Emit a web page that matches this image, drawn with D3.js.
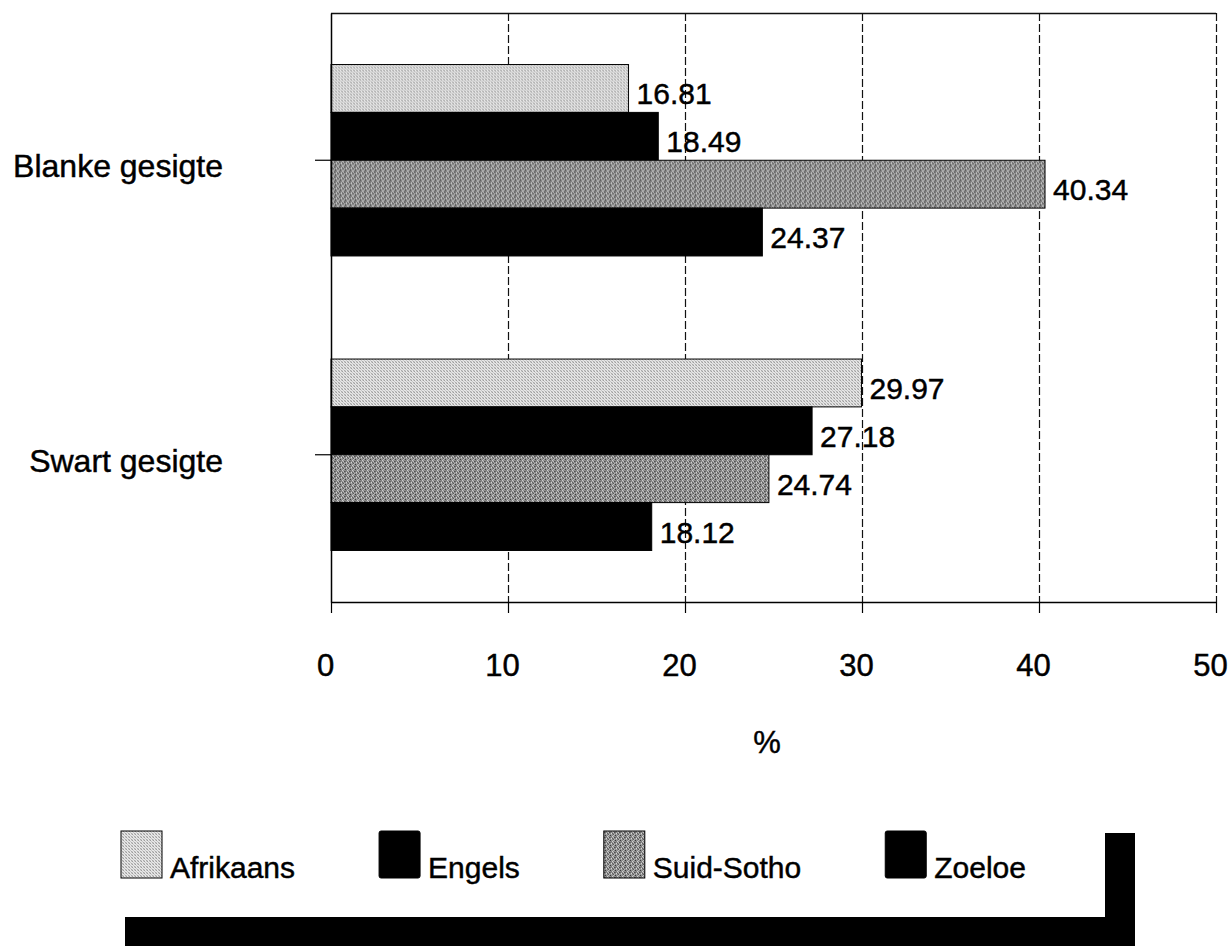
<!DOCTYPE html>
<html>
<head>
<meta charset="utf-8">
<script src="https://cdn.jsdelivr.net/npm/d3@7"></script>
<style>
  html, body { margin: 0; padding: 0; background: #fff; }
  svg { display: block; font-family: "Liberation Sans", Arial, Helvetica, sans-serif; }
  text { stroke: #000; stroke-width: 0.45px; }
</style>
</head>
<body>
<svg id="chart" width="1228" height="946"></svg>
<script>
// ---- data ----
const categories = ["Blanke gesigte", "Swart gesigte"];
const seriesNames = ["Afrikaans", "Engels", "Suid-Sotho", "Zoeloe"];
const afrikaans = [16.81, 29.97];
const engels    = [18.49, 27.18];
const suidSotho = [40.34, 24.74];
const zoeloe    = [24.37, 18.12];
const xTicks = [0, 10, 20, 30, 40, 50];
const xTitle = "%";

const seriesValues = [afrikaans, engels, suidSotho, zoeloe];
const seriesFill = ["url(#patA)", "#000", "url(#patS)", "#000"];

// ---- layout ----
const svg = d3.select("#chart");
const plot = { left: 331, right: 1216, top: 13, bottom: 602 };
const FONT = '"Liberation Sans", Arial, Helvetica, sans-serif';

// patterns
const defs = svg.append("defs");
const pA = defs.append("pattern").attr("id", "patA").attr("patternUnits", "userSpaceOnUse")
  .attr("width", 3).attr("height", 3);
pA.append("rect").attr("width", 3).attr("height", 3).attr("fill", "#e8e8e8");
[[0,0,"#9c9c9c"],[1,1,"#c4c4c4"],[2,2,"#a8a8a8"],[2,0,"#d2d2d2"],[0,2,"#cfcfcf"]].forEach(([x,y,c]) =>
  pA.append("rect").attr("x", x).attr("y", y).attr("width", 1).attr("height", 1).attr("fill", c));

const pS = defs.append("pattern").attr("id", "patS").attr("patternUnits", "userSpaceOnUse")
  .attr("width", 5).attr("height", 5);
pS.append("rect").attr("width", 5).attr("height", 5).attr("fill", "#8e8e8e");
[[0,0,"#3a3a3a"],[2,1,"#d0d0d0"],[4,2,"#4c4c4c"],[1,3,"#d8d8d8"],[3,4,"#5a5a5a"],
 [3,0,"#bdbdbd"],[0,2,"#6a6a6a"],[1,1,"#7a7a7a"],[4,4,"#b8b8b8"],[2,3,"#606060"],
 [1,4,"#a8a8a8"],[3,2,"#c4c4c4"]].forEach(([x,y,c]) =>
  pS.append("rect").attr("x", x).attr("y", y).attr("width", 1).attr("height", 1).attr("fill", c));

// scales
const x = d3.scaleLinear().domain([0, 50]).range([plot.left, plot.right]);
const y0 = d3.scaleBand().domain(categories).range([plot.top, plot.bottom])
  .paddingInner(0.35).paddingOuter(0.175);
const y1 = d3.scaleBand().domain(seriesNames).range([0, y0.bandwidth()]).padding(0);

// gridlines (dashed), including right border at 50
svg.append("g").selectAll("line").data(xTicks.filter(d => d > 0)).join("line")
  .attr("x1", d => Math.round(x(d)) + 0.5).attr("x2", d => Math.round(x(d)) + 0.5)
  .attr("y1", plot.top).attr("y2", plot.bottom)
  .attr("stroke", "#111").attr("stroke-width", 1.2).attr("stroke-dasharray", "8,3");

// top border
svg.append("line").attr("x1", plot.left).attr("x2", plot.right)
  .attr("y1", plot.top + 0.5).attr("y2", plot.top + 0.5)
  .attr("stroke", "#111").attr("stroke-width", 1.3);

// bars
const groups = svg.append("g").selectAll("g").data(categories).join("g")
  .attr("transform", c => `translate(0,${y0(c)})`);

groups.each(function(c, ci) {
  const g = d3.select(this);
  seriesNames.forEach((s, si) => {
    const v = seriesValues[si][ci];
    g.append("rect")
      .attr("x", x(0)).attr("y", y1(s))
      .attr("width", x(v) - x(0)).attr("height", y1.bandwidth())
      .attr("fill", seriesFill[si])
      .attr("stroke", "#000").attr("stroke-width", 1);
  });
});

// axes
const xAxis = d3.axisBottom(x).tickValues(xTicks).tickSizeInner(11).tickSizeOuter(0)
  .tickFormat(d3.format("d"));
const gx = svg.append("g").attr("transform", `translate(0,${plot.bottom})`).call(xAxis);
gx.select(".domain").attr("stroke", "#000").attr("stroke-width", 1.5);
gx.selectAll(".tick line").attr("stroke", "#000").attr("stroke-width", 1.2);
gx.selectAll(".tick text")
  .attr("y", 74).attr("dy", 0).attr("dx", -6)
  .attr("font-family", FONT).attr("font-size", 31).attr("fill", "#000");

const yAxis = d3.axisLeft(y0).tickSizeInner(16).tickSizeOuter(0).tickFormat("");
const gy = svg.append("g").attr("transform", `translate(${plot.left},0)`).call(yAxis);
gy.select(".domain").attr("stroke", "#000").attr("stroke-width", 1.5);
gy.selectAll(".tick line").attr("stroke", "#000").attr("stroke-width", 1.2);

// category labels
svg.append("g").selectAll("text").data(categories).join("text")
  .attr("x", 223)
  .attr("y", c => y0(c) + y0.bandwidth() / 2 + 17)
  .attr("text-anchor", "end")
  .attr("font-family", FONT).attr("font-size", 32).attr("fill", "#000")
  .text(c => c);

// value labels
groups.each(function(c, ci) {
  const g = d3.select(this);
  seriesNames.forEach((s, si) => {
    const v = seriesValues[si][ci];
    g.append("text")
      .attr("x", x(v) + 8)
      .attr("y", y1(s) + y1.bandwidth() / 2 + 16)
      .attr("font-family", FONT).attr("font-size", 30).attr("fill", "#000")
      .text(d3.format(".2f")(v));
  });
});

// x title
svg.append("text").attr("x", 767).attr("y", 753).attr("text-anchor", "middle")
  .attr("font-family", FONT).attr("font-size", 31).attr("fill", "#000").text(xTitle);

// legend
const legend = svg.append("g");
let lx = 121;
seriesNames.forEach((s, si) => {
  legend.append("rect")
    .attr("x", lx).attr("y", 831).attr("width", 41).attr("height", 47)
    .attr("rx", si % 2 === 1 ? 2 : 0)
    .attr("fill", seriesFill[si]).attr("stroke", "#000").attr("stroke-width", 1);
  const t = legend.append("text")
    .attr("x", lx + 49).attr("y", 878)
    .attr("font-family", FONT).attr("font-size", 30).attr("fill", "#000")
    .text(s);
  lx = lx + 49 + t.node().getComputedTextLength() + 84;
});

// legend frame shadow (black bottom band and right bar)
svg.append("path")
  .attr("d", "M1105,833 L1135,833 L1135,946 L125,946 L125,917 L1105,917 Z")
  .attr("fill", "#000");
</script>
</body>
</html>
